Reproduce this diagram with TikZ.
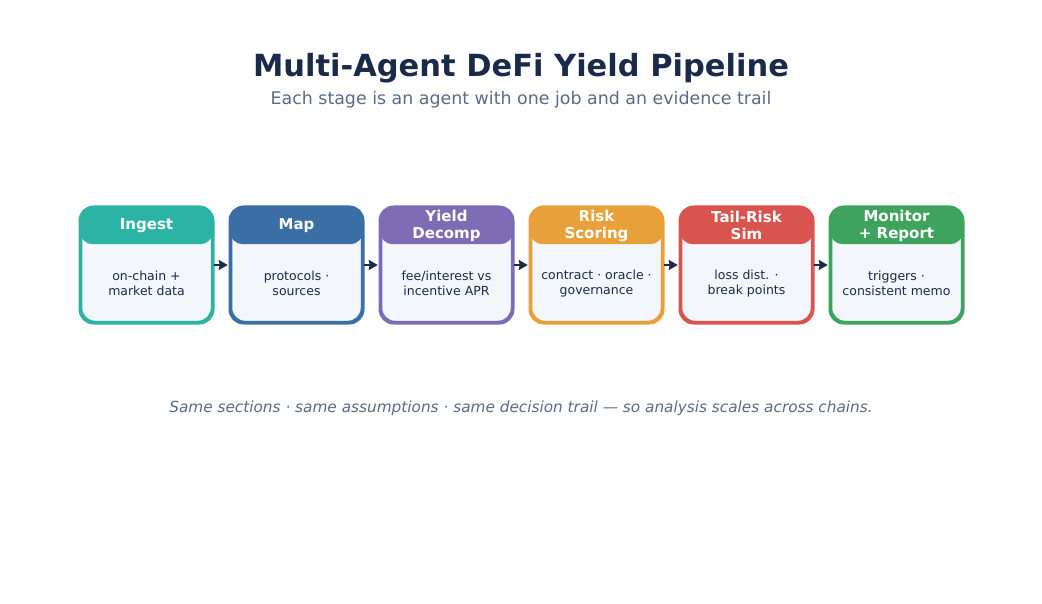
\documentclass[tikz,border=0pt]{standalone}
\usepackage{fontspec}
\setmainfont{DejaVu Sans}
\usepackage{tikz}
\usetikzlibrary{positioning,arrows.meta}

\definecolor{navy}{HTML}{1C2A4A}
\definecolor{slate}{HTML}{5B6B85}
\definecolor{bodyfill}{HTML}{F3F6FB}
\definecolor{cteal}{HTML}{2BB3A3}
\definecolor{cblue}{HTML}{3A6EA5}
\definecolor{cpurple}{HTML}{7E6BB5}
\definecolor{corange}{HTML}{E8A03A}
\definecolor{cred}{HTML}{D9534F}
\definecolor{cgreen}{HTML}{3DA35D}

\begin{document}
\begin{tikzpicture}[
        x=1pt, y=-1pt,
        stage/.style={rectangle, rounded corners=14pt, draw=#1, line width=2.5pt, fill=bodyfill, minimum width=131pt, minimum height=114pt, inner sep=0pt},
        head/.style={rectangle, rounded corners=12pt, draw=#1, fill=#1, line width=2.5pt, minimum width=131pt, minimum height=35pt, inner sep=0pt, anchor=north, align=center, text=white, font=\fontsize{15}{17}\selectfont\bfseries},
        body/.style={align=center, text=navy, font=\fontsize{12.5}{15}\selectfont},
        arrow/.style={-{Stealth[length=9pt,width=10pt,inset=1pt]}, line width=2.5pt, draw=navy, shorten <=1pt, shorten >=2pt},
        node distance=16.5pt
    ]
        \useasboundingbox (0,0) rectangle (1042,604);
        % Title
        \node[text=navy, font=\fontsize{30.5}{34}\selectfont\bfseries] (title) at (521,68) {Multi-Agent DeFi Yield Pipeline};
        \node[text=slate, font=\fontsize{17.4}{20}\selectfont] (subtitle) at (521,100) {Each stage is an agent with one job and an evidence trail};
        % Stages
        \node[stage=cteal] (ingest) at (146.5,265) {};
        \node[stage=cblue, right=of ingest] (map) {};
        \node[stage=cpurple, right=of map] (decomp) {};
        \node[stage=corange, right=of decomp] (risk) {};
        \node[stage=cred, right=of risk] (tail) {};
        \node[stage=cgreen, right=of tail] (monitor) {};
        % Headers
        \node[head=cteal] (ingestH) at (ingest.north) {Ingest};
        \node[head=cblue] (mapH) at (map.north) {Map};
        \node[head=cpurple] (decompH) at (decomp.north) {Yield\\Decomp};
        \node[head=corange] (riskH) at (risk.north) {Risk\\Scoring};
        \node[head=cred] (tailH) at (tail.north) {Tail-Risk\\Sim};
        \node[head=cgreen] (monitorH) at (monitor.north) {Monitor\\+ Report};
        % Outlines again on top of headers
        \draw[draw=cteal, line width=2.5pt, rounded corners=14pt] (ingest.south west) rectangle (ingest.north east);
        \draw[draw=cblue, line width=2.5pt, rounded corners=14pt] (map.south west) rectangle (map.north east);
        \draw[draw=cpurple, line width=2.5pt, rounded corners=14pt] (decomp.south west) rectangle (decomp.north east);
        \draw[draw=corange, line width=2.5pt, rounded corners=14pt] (risk.south west) rectangle (risk.north east);
        \draw[draw=cred, line width=2.5pt, rounded corners=14pt] (tail.south west) rectangle (tail.north east);
        \draw[draw=cgreen, line width=2.5pt, rounded corners=14pt] (monitor.south west) rectangle (monitor.north east);
        % Bodies
        \node[body] (ingestB) at ([yshift=-18.5pt]ingest.center) {on-chain +\\market data};
        \node[body] (mapB) at ([yshift=-18.5pt]map.center) {protocols ·\\sources};
        \node[body] (decompB) at ([yshift=-18.5pt]decomp.center) {fee/interest vs\\incentive APR};
        \node[body] (riskB) at ([yshift=-18.5pt]risk.center) {contract · oracle ·\\governance};
        \node[body] (tailB) at ([yshift=-18.5pt]tail.center) {loss dist. ·\\break points};
        \node[body] (monitorB) at ([yshift=-18.5pt]monitor.center) {triggers ·\\consistent memo};
        % Arrows
        \draw[arrow] (ingest) -- (map);
        \draw[arrow] (map) -- (decomp);
        \draw[arrow] (decomp) -- (risk);
        \draw[arrow] (risk) -- (tail);
        \draw[arrow] (tail) -- (monitor);
        % Footer
        \node[text=slate, font=\fontsize{15.3}{18}\selectfont\itshape] (footer) at (521,408) {Same sections · same assumptions · same decision trail — so analysis scales across chains.};
    \end{tikzpicture}
\end{document}
